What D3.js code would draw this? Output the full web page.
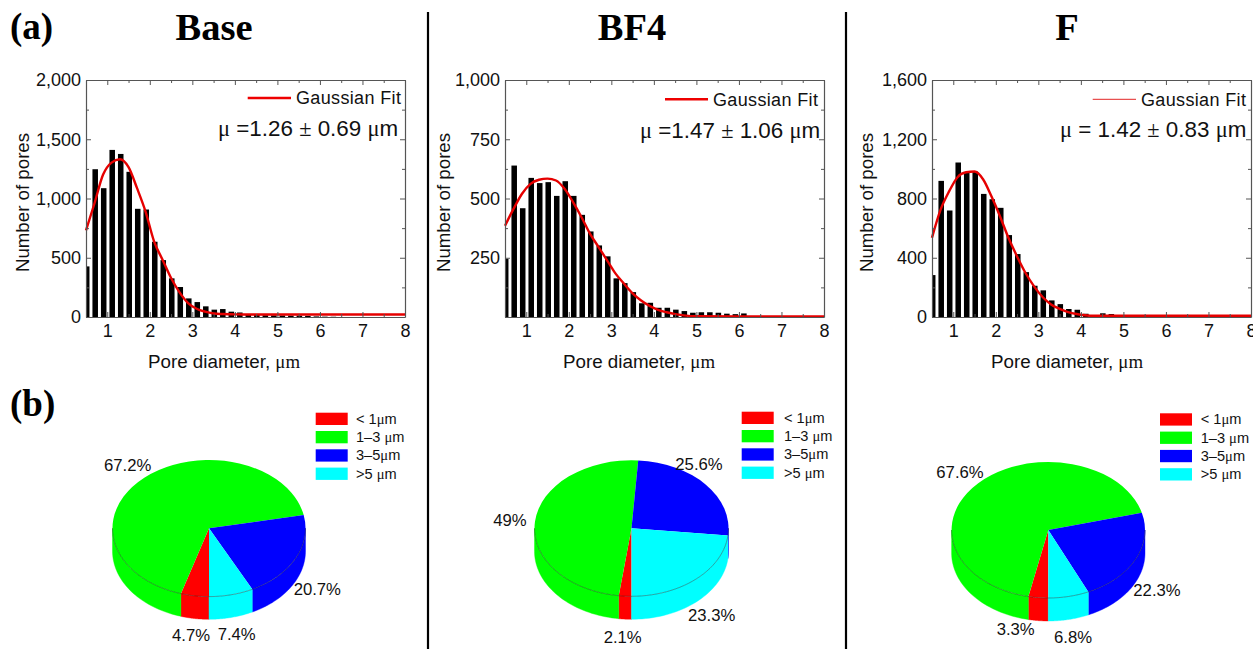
<!DOCTYPE html>
<html><head><meta charset="utf-8">
<style>
html,body{margin:0;padding:0;background:#fff;overflow:hidden}
text{font-family:"Liberation Sans",Arial,sans-serif;fill:#111}
</style>
<script src="https://cdn.jsdelivr.net/npm/d3@7"></script>
</head><body><div id="c"></div>
<script>
const panelTitles = ["Base","BF4","F"];
const binCenters = [0.5,0.7,0.9,1.1,1.3,1.5,1.7,1.9,2.1,2.3,2.5,2.7,2.9,3.1,3.3,3.5,3.7,3.9,4.1,4.3,4.5,4.7,4.9,5.1,5.3,5.5,5.7,5.9,6.1,6.3];
const baseCounts = [427,1247,1087,1410,1376,1225,913,907,635,480,326,253,157,126,90,62,67,45,38,20,18,15,14,13,12,12,10,5,3,2];
const bf4Counts  = [246,639,459,587,565,569,511,573,511,431,361,302,256,163,143,105,58,60,39,39,31,25,18,20,20,18,14,12,15,2];
const fCounts    = [283,919,719,1043,977,982,831,795,737,553,425,303,211,180,112,87,54,49,22,9,25,20,5,3,3,3,3,3,3,3];
const fitX    = [0.5,0.7,0.9,1.1,1.3,1.5,1.7,1.9,2.1,2.3,2.5,2.7,2.9,3.1,3.3,3.5,3.7,3.9,4.1,4.3,4.5,4.7,5,6,7,8];
const baseFit = [731,960,1200,1303,1331,1264,1087,890,638,483,329,208,118,70,45,30,25,23,22,21,21,21,21,21,21,21];
const bf4Fit  = [385,456,520,562,579,584,576,541,485,421,351,295,239,183,140,100,70,47,30,20,12,7,3,2,2,2];
const fFit    = [535,723,847,944,977,982,930,813,679,533,409,297,207,135,85,55,33,20,12,8,8,8,8,8,8,8];
const yMaxes = [2000,1000,1600];
const yTickLabels = [[0,500,1000,1500,2000],[250,500,750,1000],[0,400,800,1200,1600]];
const xTickLabels = [1,2,3,4,5,6,7,8];
const fitTexts = [["μ"," =1.26 ","±"," 0.69 ","μ","m"],["μ"," =1.47 ","±"," 1.06 ","μ","m"],["μ"," = 1.42 ","±"," 0.83 ","μ","m"]];
const sliceNames = ["< 1μm","1–3 μm","3–5μm",">5 μm"];
const sliceColors = ["#ff0000","#00ff00","#0000ff","#00ffff"];
const basePie = [4.7,67.2,20.7,7.4];
const bf4Pie  = [2.1,49,25.6,23.3];
const fPie    = [3.3,67.6,22.3,6.8];
const pieLabels = [["4.7%","67.2%","20.7%","7.4%"],["2.1%","49%","25.6%","23.3%"],["3.3%","67.6%","22.3%","6.8%"]];

const countsAll=[baseCounts,bf4Counts,fCounts], fitsAll=[baseFit,bf4Fit,fFit], piesAll=[basePie,bf4Pie,fPie];
// layout (pixels)
const layout=[
 {l:86,r:405,t:80,b:317,title:214,ytx:22,xtx:224,lgL:[247.7,291,98],lgT:[296,104],lgW:2.6,lgC:"#ee0000",mu:[218,136],
  pie:{cx:209,cy:528.3,rx:96.5,ry:68.3,d:22.7},leg:[315.7,412.7,356],lab:[[191,635],[127.7,465],[317.3,589],[236.7,634.3]]},
 {l:505,r:824,t:80,b:317,title:632,ytx:443,xtx:639,lgL:[665,708,99.3],lgT:[713,105.5],lgW:2.6,lgC:"#ee0000",mu:[640,138],
  pie:{cx:631.5,cy:528.3,rx:97,ry:68,d:23},leg:[741.7,411.7,784],lab:[[622.7,636.7],[510,520],[699,464],[711.7,615]]},
 {l:932,r:1251,t:80,b:317,title:1067,ytx:866,xtx:1067,lgL:[1092.7,1136,99.3],lgT:[1141,105.5],lgW:1.3,lgC:"#e85050",mu:[1060,137],
  pie:{cx:1048.3,cy:530,rx:96.7,ry:68,d:23},leg:[1160,413.3,1200.7],lab:[[1015.7,629],[960,471.7],[1157,589.7],[1073,636.7]]}
];
const W=1253,H=649;
const svg=d3.select("#c").append("svg").attr("width",W).attr("height",H).attr("viewBox",`0 0 ${W} ${H}`).style("display","block");
const defs=svg.append("defs");

// dividers
[428,846].forEach(x=>svg.append("line").attr("x1",x).attr("x2",x).attr("y1",12).attr("y2",H).attr("stroke","#000").attr("stroke-width",2.2));
// panel letters
const serif='"Liberation Serif","Times New Roman",serif';
[["(a)",10,39],["(b)",10,416]].forEach(d=>svg.append("text").attr("x",d[1]).attr("y",d[2]).text(d[0])
  .style("font-family",serif).style("font-weight","bold").style("font-size","37px").style("fill","#000"));

layout.forEach((L,i)=>{
  const g=svg.append("g");
  g.append("text").attr("x",L.title).attr("y",40).attr("text-anchor","middle").text(panelTitles[i])
    .style("font-family",serif).style("font-weight","bold").style("font-size","38.5px").style("fill","#000");
  const x=d3.scaleLinear().domain([0.5,8]).range([L.l,L.r]);
  const y=d3.scaleLinear().domain([0,yMaxes[i]]).range([L.b,L.t]);
  const cid="clip"+i;
  defs.append("clipPath").attr("id",cid).append("rect").attr("x",L.l).attr("y",L.t).attr("width",L.r-L.l).attr("height",L.b-L.t);
  const binW=x(0.63)-x(0.5);
  g.append("g").attr("clip-path",`url(#${cid})`).selectAll("rect").data(binCenters).join("rect")
    .attr("x",d=>x(d)-binW/2+0.7).attr("width",binW)
    .attr("y",(d,j)=>y(countsAll[i][j])).attr("height",(d,j)=>y(0)-y(countsAll[i][j])).attr("fill","#000");
  // fit
  const line=d3.line().x(d=>x(d[0])).y(d=>y(d[1])).curve(d3.curveMonotoneX);
  g.append("path").attr("d",line(fitX.map((v,j)=>[v,fitsAll[i][j]]))).attr("fill","none").attr("stroke","#e60000").attr("stroke-width",2.4);
  // axes: inward ticks on four sides
  const xMinor=d3.range(0.5,8.01,0.5);
  const yStep=yTickLabels[i][1]-yTickLabels[i][0];
  const yAll=d3.range(0,yMaxes[i]+1,yStep/2);
  const axColor="#555";
  const fmt=d3.format(",");
  const ax=(gen,tx,ty)=>{const s=g.append("g").attr("transform",`translate(${tx},${ty})`).call(gen);
    s.selectAll("path.domain").attr("stroke",axColor).attr("stroke-width",1.2);
    s.selectAll("line").attr("stroke",axColor).attr("stroke-width",1);return s;};
  const major=v=>Number.isInteger(v);
  const xt=(sel,dir)=>sel.selectAll(".tick line").attr("y2",(d)=>dir*(major(d)?5:3));
  const xb=ax(d3.axisBottom(x).tickValues(xMinor).tickSizeOuter(0).tickFormat(d=>xTickLabels.includes(d)?d:""),0,L.b);
  xt(xb,-1);
  xb.selectAll("text").attr("y",7).attr("dy",".71em").style("font-size","18px").style("fill","#111");
  const xtop=ax(d3.axisTop(x).tickValues(xMinor).tickSizeOuter(0).tickFormat(""),0,L.t);
  xt(xtop,1);
  const isMajY=v=>v%yStep===0;
  const yl=ax(d3.axisLeft(y).tickValues(yAll).tickSizeOuter(0).tickFormat(d=>yTickLabels[i].includes(d)?fmt(d):""),L.l,0);
  yl.selectAll(".tick line").attr("x2",d=>isMajY(d)?5:3);
  yl.selectAll("text").attr("x",-5).style("font-size","18px").style("fill","#111");
  const yr=ax(d3.axisRight(y).tickValues(yAll).tickSizeOuter(0).tickFormat(""),L.r,0);
  yr.selectAll(".tick line").attr("x2",d=>isMajY(d)?-5:-3);
  // titles
  g.append("text").attr("transform",`translate(${L.ytx+7},${(L.t+L.b)/2+4}) rotate(-90)`).attr("text-anchor","middle").text("Number of pores").style("font-size","18.7px");
  const xtitle=g.append("text").attr("x",L.xtx).attr("y",368).attr("text-anchor","middle").style("font-size","18.8px");
  xtitle.append("tspan").text("Pore diameter, ");
  xtitle.append("tspan").text("μm").style("font-family",serif);
  // legend
  g.append("line").attr("x1",L.lgL[0]).attr("x2",L.lgL[1]).attr("y1",L.lgL[2]).attr("y2",L.lgL[2]).attr("stroke",L.lgC).attr("stroke-width",L.lgW);
  g.append("text").attr("x",L.lgT[0]).attr("y",L.lgT[1]).text("Gaussian Fit").style("font-size","18px").style("letter-spacing","0.35px");
  const mu=g.append("text").attr("x",L.mu[0]).attr("y",L.mu[1]).style("font-size","22.4px");
  fitTexts[i].forEach(s=>mu.append("tspan").text(s).style("font-family",(s==="μ"||s==="±")?serif:null));

  // pie
  const P=L.pie, k=P.ry/P.rx;
  const arcs=d3.pie().sort(null).startAngle(Math.PI).endAngle(3*Math.PI)(piesAll[i]);
  const arc=d3.arc().innerRadius(0).outerRadius(P.rx);
  const pg=g.append("g");
  const pt=(a,dy)=>[P.cx+P.rx*Math.sin(a),P.cy-P.ry*Math.cos(a)+dy];
  // walls: visible front part only
  arcs.forEach((A,j)=>{
    [[Math.PI/2,3*Math.PI/2],[5*Math.PI/2,7*Math.PI/2]].forEach(r=>{
      const a0=Math.max(A.startAngle,r[0]),a1=Math.min(A.endAngle,r[1]);
      if(a1<=a0)return;
      const ang=d3.range(0,41).map(n=>a0+(a1-a0)*n/40);
      const top=ang.map(a=>pt(a,0)),bot=ang.map(a=>pt(a,P.d)).reverse();
      pg.append("path").attr("d",d3.line()(top.concat(bot))+"Z").attr("fill",sliceColors[j]).attr("stroke",sliceColors[j]).attr("stroke-width",0.4);
    });
  });
  pg.append("g").attr("transform",`translate(${P.cx},${P.cy}) scale(1,${k})`)
    .selectAll("path").data(arcs).join("path").attr("d",arc).attr("fill",(d,j)=>sliceColors[j]);
  // rim line on front of top face
  const rimA=d3.range(0,61).map(n=>Math.PI/2+Math.PI*n/60);
  pg.append("path").attr("d",d3.line()(rimA.map(a=>pt(a,0)))).attr("fill","none").attr("stroke","#222").attr("stroke-width",0.5).attr("stroke-opacity",0.8);
  // pie labels
  arcs.forEach((A,j)=>{
    g.append("text").attr("x",L.lab[j][0]).attr("y",L.lab[j][1]+6).attr("text-anchor","middle").text(pieLabels[i][j]).style("font-size","16.7px");
  });
  // pie legend
  sliceNames.forEach((n,j)=>{
    const yy=L.leg[1]+j*18.3;
    g.append("rect").attr("x",L.leg[0]).attr("y",yy).attr("width",32).attr("height",12.3).attr("fill",sliceColors[j]);
    const t=g.append("text").attr("x",L.leg[2]).attr("y",yy+11).style("font-size","14.6px");
    n.split("μ").forEach((part,q)=>{ if(q>0)t.append("tspan").text("μ").style("font-family",serif); t.append("tspan").text(part); });
  });
});
</script></body></html>
